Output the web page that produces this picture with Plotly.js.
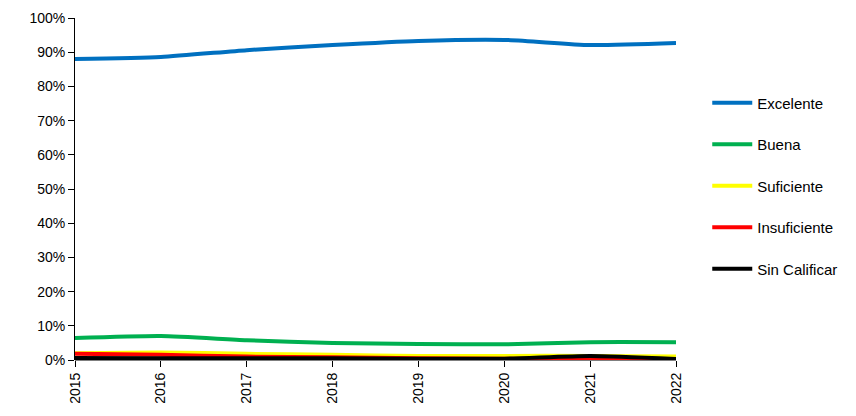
<!DOCTYPE html>
<html><head><meta charset="utf-8">
<script src="https://cdn.plot.ly/plotly-3.0.1.min.js"></script>
<style>body{margin:0}#c{width:856px;height:416px}</style>
</head><body><div id="c"></div>
<script>
const years = ['2015','2016','2017','2018','2019','2020','2021','2022'];
const excelente = [0.880, 0.886, 0.906, 0.921, 0.933, 0.936, 0.921, 0.927];
const buena = [0.064, 0.070, 0.058, 0.050, 0.047, 0.046, 0.052, 0.052];
const suficiente = [0.020, 0.022, 0.018, 0.015, 0.012, 0.012, 0.012, 0.010];
const insuficiente = [0.018, 0.015, 0.010, 0.008, 0.005, 0.004, 0.003, 0.003];
const sinCalificar = [0.006, 0.005, 0.005, 0.005, 0.004, 0.004, 0.012, 0.003];
const names = ['Excelente','Buena','Suficiente','Insuficiente','Sin Calificar'];
const colors = ['#0070C0','#00B050','#FFFF00','#FF0000','#000000'];
const series = [excelente, buena, suficiente, insuficiente, sinCalificar];
const data = series.map((s,i)=>({
  x: years, y: s, name: names[i], type:'scatter', mode:'lines',
  line:{color:colors[i], width:4, shape:'spline', smoothing:0.6},
  legendgroup:'g'+i
}));
const layout = {
  width:856, height:416,
  margin:{l:75, r:180, t:18, b:56},
  paper_bgcolor:'#fff', plot_bgcolor:'#fff',
  font:{family:'"Liberation Sans", Arial, sans-serif', size:14, color:'#000'},
  showlegend:true,
  legend:{x:1.052, y:0.80, xanchor:'left', yanchor:'top', traceorder:'grouped', tracegroupgap:19,
    font:{size:15, color:'#000'}, itemwidth:40},
  xaxis:{type:'category', range:[0,7], showgrid:false, zeroline:false, showline:false,
    ticks:'outside', ticklen:6, tickcolor:'#000', tickangle:-90, tickfont:{size:14, color:'#000'}},
  yaxis:{range:[0,1], dtick:0.1, tickformat:'.0%', showgrid:false, zeroline:false,
    showline:true, linecolor:'#000', linewidth:1, ticks:'outside', ticklen:6, tickcolor:'#000',
    tickfont:{size:14, color:'#000'}},
  shapes:[{type:'line', xref:'paper', yref:'paper', x0:0, x1:1, y0:0, y1:0, line:{color:'#000', width:1}, layer:'below'}]
};
Plotly.newPlot('c', data, layout, {displayModeBar:false});
</script></body></html>
